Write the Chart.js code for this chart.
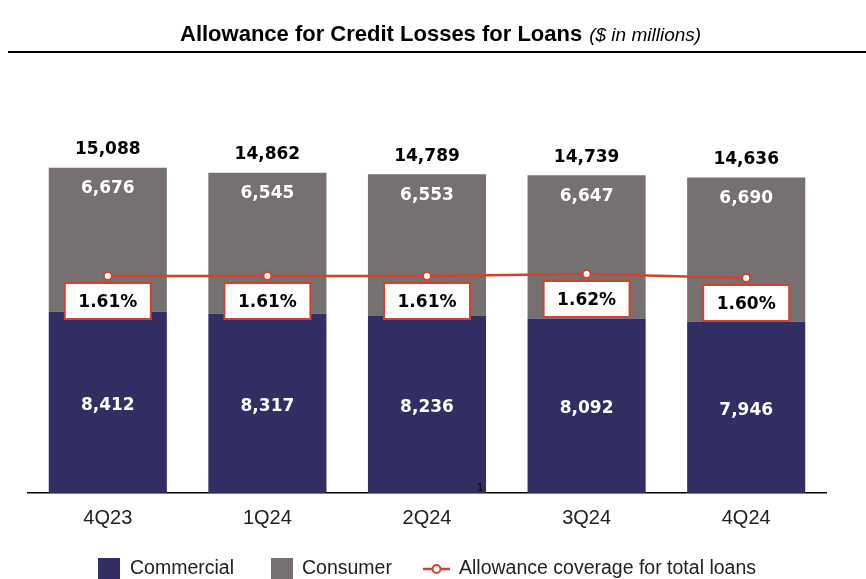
<!DOCTYPE html>
<html>
<head>
<meta charset="utf-8">
<script src="https://cdn.jsdelivr.net/npm/chart.js@4.4.1/dist/chart.umd.min.js"></script>
<style>
  html, body { margin: 0; padding: 0; background: #fff; }
  #wrap { width: 866px; height: 579px; position: relative; }
</style>
</head>
<body>
<div id="wrap"><canvas id="myChart"></canvas></div>
<script>
const quarters = ["4Q23", "1Q24", "2Q24", "3Q24", "4Q24"];
const commercial = [8412, 8317, 8236, 8092, 7946];
const consumer = [6676, 6545, 6553, 6647, 6690];
const totals = [15088, 14862, 14789, 14739, 14636];
const coverage = [1.61, 1.61, 1.61, 1.62, 1.60];
const coverageLabels = ["1.61%", "1.61%", "1.61%", "1.62%", "1.60%"];

const NAVY = "#322e63";
const GRAY = "#767070";
const RED = "#d0432f";

const fmt = (v) => v.toLocaleString("en-US");

// value labels, coverage boxes
const labelsPlugin = {
  id: "labels",
  afterDatasetsDraw(chart) {
    const c = chart.ctx;
    const comm = chart.getDatasetMeta(0).data;
    const cons = chart.getDatasetMeta(1).data;
    const pts = chart.getDatasetMeta(2).data;
    c.save();
    c.textAlign = "center";
    c.textBaseline = "middle";
    c.font = "bold 17px 'DejaVu Sans'";
    comm.forEach((bar, i) => {
      c.fillStyle = "#fff";
      c.fillText(fmt(commercial[i]), bar.x, (bar.y + bar.base) / 2 + 3);
      const top = cons[i];
      c.fillText(fmt(consumer[i]), top.x, top.y + 21);
      c.fillStyle = "#000";
      c.fillText(fmt(totals[i]), top.x, top.y - 18);

      const p = pts[i];
      const w = 86, h = 36, y0 = p.y + 7;
      c.fillStyle = "#fff";
      c.fillRect(p.x - w / 2, y0, w, h);
      c.strokeStyle = RED;
      c.lineWidth = 2;
      c.strokeRect(p.x - w / 2, y0, w, h);
      c.fillStyle = "#000";
      c.fillText(coverageLabels[i], p.x, y0 + h / 2 + 2);
    });
    c.restore();
  },
  afterDraw(chart) {
    const c = chart.ctx;
    c.save();
    // title
    c.textBaseline = "alphabetic";
    c.textAlign = "left";
    c.fillStyle = "#000";
    c.font = "bold 22px 'Liberation Sans'";
    const t1 = "Allowance for Credit Losses for Loans";
    c.fillText(t1, 180, 41);
    const w1 = c.measureText(t1).width;
    c.font = "italic 19px 'Liberation Sans'";
    c.fillText("($ in millions)", 180 + w1 + 7, 41);
    c.fillRect(8, 51, 858, 2);

    // footnote mark
    c.font = "11px 'Liberation Sans'";
    c.textAlign = "center";
    c.fillText("1", 480, 491);

    // legend
    c.textAlign = "left";
    c.textBaseline = "middle";
    c.font = "19.5px 'Liberation Sans'";
    c.fillStyle = NAVY;
    c.fillRect(98, 558, 22, 22);
    c.fillStyle = "#222";
    c.fillText("Commercial", 130, 569);
    c.fillStyle = GRAY;
    c.fillRect(271, 558, 22, 22);
    c.fillStyle = "#222";
    c.fillText("Consumer", 302, 569);
    c.strokeStyle = RED;
    c.lineWidth = 2.5;
    c.beginPath();
    c.moveTo(423, 569);
    c.lineTo(450, 569);
    c.stroke();
    c.beginPath();
    c.arc(436.5, 569, 4, 0, Math.PI * 2);
    c.fillStyle = "#fff";
    c.fill();
    c.lineWidth = 2;
    c.stroke();
    c.fillStyle = "#222";
    c.fillText("Allowance coverage for total loans", 459, 569);
    c.restore();
  }
};

const ctx = document.getElementById("myChart");

new Chart(ctx, {
  data: {
    labels: quarters,
    datasets: [
      {
        type: "bar",
        label: "Commercial",
        data: commercial,
        backgroundColor: NAVY,
        yAxisID: "y",
        order: 1,
      },
      {
        type: "bar",
        label: "Consumer",
        data: consumer,
        backgroundColor: GRAY,
        yAxisID: "y",
        order: 1,
      },
      {
        type: "line",
        label: "Allowance coverage for total loans",
        data: coverage,
        borderColor: RED,
        borderWidth: 2.5,
        pointRadius: 4,
        pointBorderWidth: 2,
        pointBackgroundColor: "#fff",
        pointBorderColor: RED,
        yAxisID: "y2",
        order: 0,
        fill: false,
      },
    ],
  },
  options: {
    responsive: true,
    maintainAspectRatio: false,
    animation: false,
    layout: {
      padding: { left: 28, right: 40, top: 62, bottom: 36 },
    },
    datasets: {
      bar: { categoryPercentage: 1, barPercentage: 0.74 },
    },
    plugins: {
      legend: { display: false },
      tooltip: { enabled: false },
    },
    scales: {
      x: {
        stacked: true,
        grid: { display: false, drawTicks: false },
        border: { display: true, color: "#000", width: 1.5 },
        ticks: {
          color: "#222",
          padding: 13,
          font: { family: "Liberation Sans", size: 20 },
        },
      },
      y: {
        stacked: true,
        display: false,
        min: 0,
        max: 20000,
      },
      y2: {
        display: false,
        min: 0.525,
        max: 2.68,
      },
    },
  },
  plugins: [labelsPlugin],
});
</script>
</body>
</html>
